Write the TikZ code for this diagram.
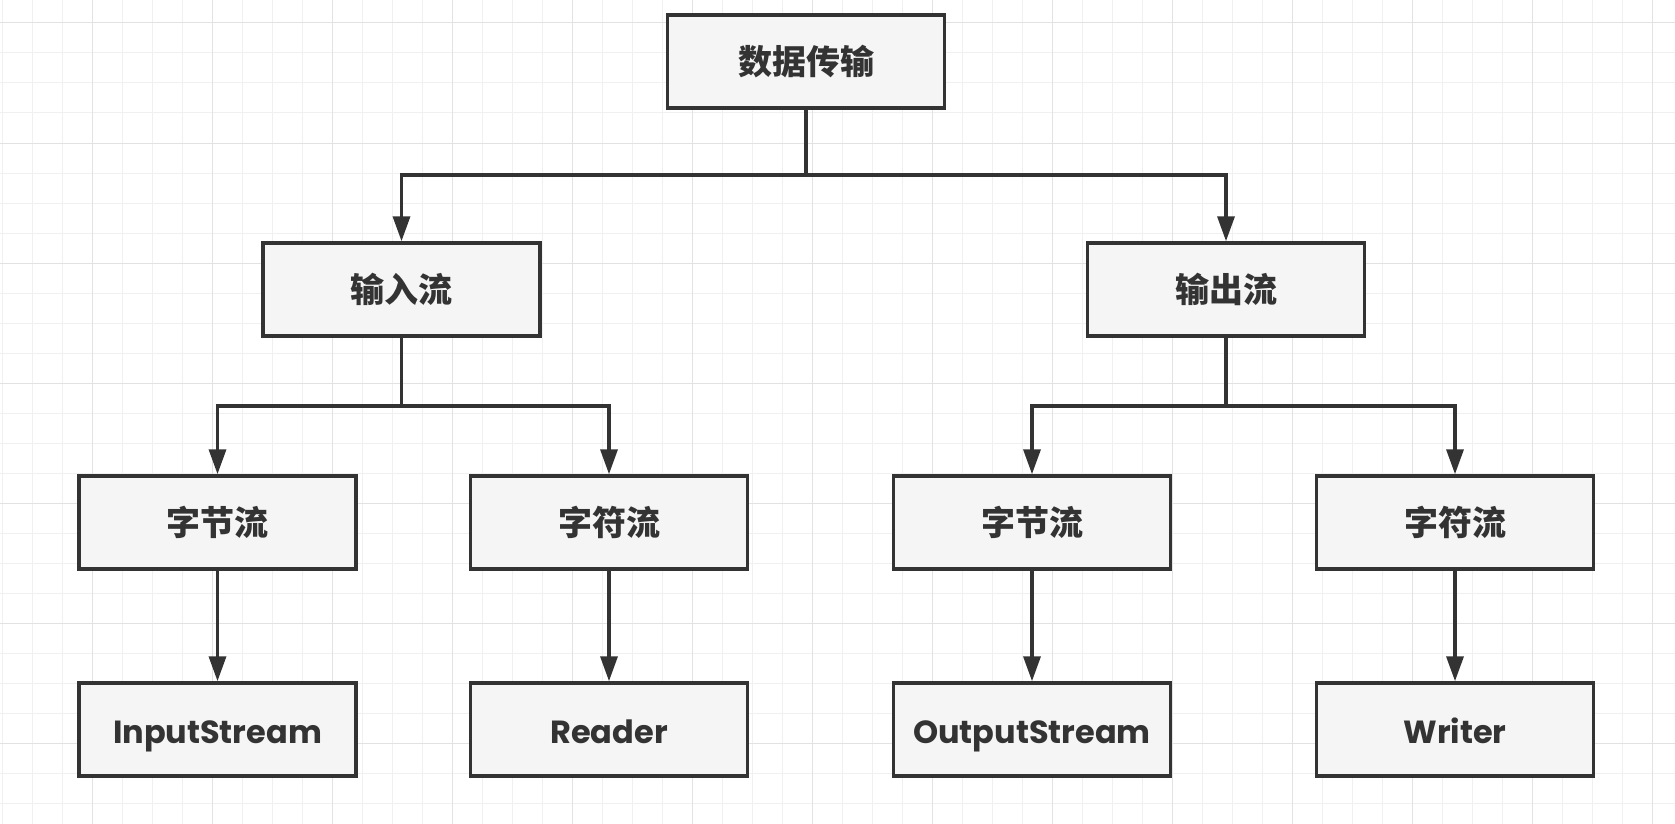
\documentclass[tikz,border=0pt]{standalone}
\usepackage{fontspec}
\setmainfont{Poppins}
\newfontfamily\cjk{Noto Sans CJK SC}
\usetikzlibrary{arrows.meta}
\definecolor{ink}{HTML}{333333}
\definecolor{boxfill}{HTML}{F5F5F5}
\definecolor{gridminor}{HTML}{F0F0F0}
\definecolor{gridmajor}{HTML}{E2E2E2}

\begin{document}
\begin{tikzpicture}[x=1pt, y=-1pt,
    box/.style={rectangle, draw=ink, fill=boxfill, line width=3.5pt,
        minimum width=277pt, minimum height=93pt, inner sep=0pt, text=ink},
    cn/.style={box, font=\cjk\bfseries\fontsize{34}{34}\selectfont},
    en/.style={box, font=\bfseries\fontsize{32}{32}\selectfont,
        text height=28pt, text depth=0pt},
    link/.style={draw=ink, line width=3.5pt, -{Triangle[length=25pt, width=17pt]}}]
    \useasboundingbox (0,0) rectangle (1675,824);
    \fill[white] (0,0) rectangle (1675,824);
    % background grid
    \foreach \gx in {2,32,...,1675} \draw[gridminor, line width=1pt] (\gx,0) -- (\gx,824);
    \foreach \gy in {23,53,...,824} \draw[gridminor, line width=1pt] (0,\gy) -- (1675,\gy);
    \foreach \gx in {92,212,...,1675} \draw[gridmajor, line width=1pt] (\gx,0) -- (\gx,824);
    \foreach \gy in {23,143,...,824} \draw[gridmajor, line width=1pt] (0,\gy) -- (1675,\gy);
    % root node
    \node[cn] (data) at (806, 61.5) {数据传输};
    % stream nodes
    \node[cn] (in) at (401.5, 289.5) {输入流};
    \node[cn] (out) at (1226, 289.5) {输出流};
    % kind nodes
    \node[cn] (inbyte) at (217.5, 522.5) {字节流};
    \node[cn] (inchar) at (609, 522.5) {字符流};
    \node[cn] (outbyte) at (1032, 522.5) {字节流};
    \node[cn] (outchar) at (1455, 522.5) {字符流};
    % class nodes
    \node[en] (instream) at (217.5, 729.5) {InputStream};
    \node[en] (reader) at (609, 729.5) {Reader};
    \node[en] (outstream) at (1032, 729.5) {OutputStream};
    \node[en] (writer) at (1455, 729.5) {Writer};
    % root to streams
    \draw[link] (data.south) -- ++(0,65) -| (in.north);
    \draw[link] (data.south) -- ++(0,65) -| (out.north);
    % streams to kinds
    \draw[link] (in.south) -- ++(0,68) -| (inbyte.north);
    \draw[link] (in.south) -- ++(0,68) -| (inchar.north);
    \draw[link] (out.south) -- ++(0,68) -| (outbyte.north);
    \draw[link] (out.south) -- ++(0,68) -| (outchar.north);
    % kinds to classes
    \draw[link] (inbyte) -- (instream);
    \draw[link] (inchar) -- (reader);
    \draw[link] (outbyte) -- (outstream);
    \draw[link] (outchar) -- (writer);
\end{tikzpicture}
\end{document}
